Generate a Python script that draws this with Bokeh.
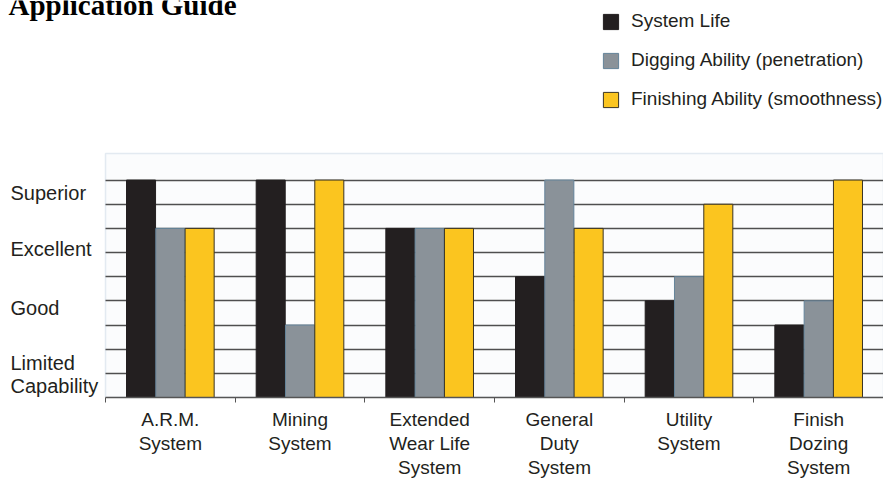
from bokeh.plotting import figure
from bokeh.models import (Range1d, FixedTicker, LinearAxis, BoxAnnotation,
                          Label, Legend, LegendItem, ColumnDataSource)
from bokeh.transform import dodge
from bokeh.embed import file_html
from bokeh.resources import INLINE

# ---- data ----
categories = ["A.R.M.\nSystem", "Mining\nSystem", "Extended\nWear Life\nSystem",
              "General\nDuty\nSystem", "Utility\nSystem", "Finish\nDozing\nSystem"]
series_names = ["System Life", "Digging Ability (penetration)", "Finishing Ability (smoothness)"]
system_life = [9, 9, 7, 5, 4, 3]
digging_ability = [7, 3, 7, 9, 5, 4]
finishing_ability = [7, 9, 7, 7, 8, 9]
rating_labels = ["Superior", "Excellent", "Good", "Limited\nCapability"]
rating_positions = [8.46, 6.15, 3.7, 0.94]
grid_levels = [1, 2, 3, 4, 5, 6, 7, 8, 9]
title_text = "Application Guide"

# ---- style / layout ----
FONT = "Liberation Sans"
TXT = "#231f20"
colors = ["#231f20", "#8a9299", "#fbc51f"]
outlines = ["#231f20", "#64849a", "#3a3424"]
W, H = 883, 482
LEFT = 105          # px where the plotting panel starts
FRAME_B = 397       # px of the zero line
UY = 24.16          # px per rating step
SCALE_TOP = 10.1    # top edge of the plotting panel, in rating steps

n = len(categories)
UX = (W - LEFT) / n
centers = [i + 0.5 for i in range(n)]
bounds = [i for i in range(n + 1)]

p = figure(x_range=Range1d(-LEFT / UX, n), y_range=Range1d(0, FRAME_B / UY),
           width=W, height=H, output_backend="svg", toolbar_location=None,
           x_axis_location=None, y_axis_location=None,
           min_border_left=0, min_border_right=0, min_border_top=0,
           min_border_bottom=H - FRAME_B)
p.background_fill_color = "white"
p.border_fill_color = "white"
p.outline_line_color = None
p.xgrid.grid_line_color = None

# plotting panel
p.add_layout(BoxAnnotation(left=0, right=n, bottom=0, top=SCALE_TOP, level="image",
                           fill_color="#fbfcfd", fill_alpha=1,
                           line_color="#a9c1d4", line_width=1.5))

# horizontal rules
p.ygrid.ticker = FixedTicker(ticks=grid_levels)
p.ygrid.grid_line_color = "#4f4f4f"
p.ygrid.grid_line_width = 1.5
if "cross_bounds" in p.ygrid.properties():
    p.ygrid.cross_bounds = (0, n)
else:
    p.ygrid.grid_line_color = None
    p.segment(x0=[0] * len(grid_levels), x1=[n] * len(grid_levels),
              y0=grid_levels, y1=grid_levels, line_color="#4f4f4f", line_width=1.5)

src = ColumnDataSource(dict(pos=centers, life=system_life,
                            dig=digging_ability, fin=finishing_ability))
offsets = [-0.226, 0.0, 0.226]
fields = ["life", "dig", "fin"]
renderers = []
for f, off, c, lc in zip(fields, offsets, colors, outlines):
    r = p.vbar(x=dodge("pos", off), top=f, bottom=0, width=0.224,
               source=src, fill_color=c, line_color=lc, line_width=1)
    renderers.append(r)

# axis with ticks at the category boundaries
tick_axis = LinearAxis(ticker=FixedTicker(ticks=bounds), bounds=(0, n),
                       major_label_overrides={b: "" for b in bounds},
                       major_label_text_font_size="1px", major_label_standoff=0,
                       major_tick_in=0, major_tick_out=5,
                       major_tick_line_color="#555555", minor_tick_line_color=None,
                       axis_line_color="#555555", axis_line_width=1.5)
p.add_layout(tick_axis, "below")
# axis carrying the category names at the slot centres
cat_axis = LinearAxis(ticker=FixedTicker(ticks=centers),
                      major_label_overrides=dict(zip(centers, categories)),
                      axis_line_color=None, major_tick_line_color=None,
                      minor_tick_line_color=None,
                      major_label_text_font=FONT, major_label_text_font_size="19px",
                      major_label_text_color=TXT, major_label_standoff=0,
                      major_label_text_line_height=1.16)
p.add_layout(cat_axis, "below")

# rating labels on the left
for txt, ypos in zip(rating_labels, rating_positions):
    p.add_layout(Label(x=10, x_units="screen", y=ypos, y_units="data", text=txt,
                       text_font=FONT, text_font_size="20px", text_color=TXT,
                       text_align="left", text_baseline="middle", text_line_height=1.05))

# title (cut off at the top, like the reference)
p.add_layout(Label(x=8, x_units="screen", y=FRAME_B - 4, y_units="screen",
                   text=title_text, text_font="Liberation Serif", text_font_style="bold",
                   text_font_size="29px", text_color="black",
                   text_align="left", text_baseline="alphabetic"))

legend = Legend(items=[LegendItem(label=s, renderers=[r]) for s, r in zip(series_names, renderers)],
                location=(601, FRAME_B - 110), orientation="vertical",
                glyph_width=19, glyph_height=19, label_height=19, label_standoff=11,
                spacing=17, padding=0, margin=0, border_line_color=None,
                background_fill_alpha=0, label_text_font=FONT,
                label_text_font_size="19px", label_text_color=TXT)
p.add_layout(legend, "center")

open("out.html", "w").write(file_html(p, INLINE))
